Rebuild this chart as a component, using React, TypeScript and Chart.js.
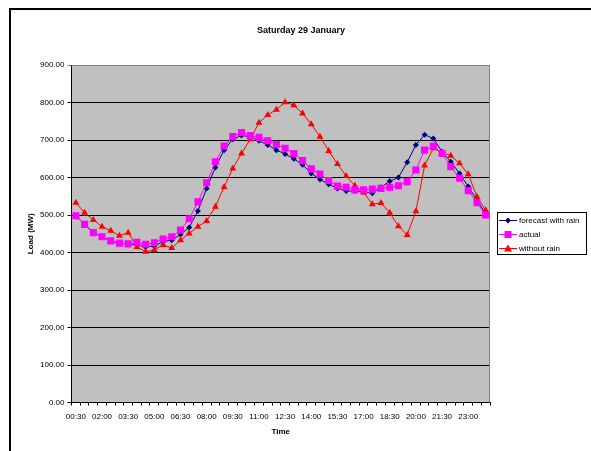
import React, { useEffect, useRef } from "react";
import { Chart, registerables } from "chart.js";

Chart.register(...registerables);

const TITLE = "Saturday 29 January";
const X_TITLE = "Time";
const Y_TITLE = "Load (MW)";

const TIME_LABELS = [
  "00:30", "01:00", "01:30", "02:00", "02:30", "03:00", "03:30", "04:00",
  "04:30", "05:00", "05:30", "06:00", "06:30", "07:00", "07:30", "08:00",
  "08:30", "09:00", "09:30", "10:00", "10:30", "11:00", "11:30", "12:00",
  "12:30", "13:00", "13:30", "14:00", "14:30", "15:00", "15:30", "16:00",
  "16:30", "17:00", "17:30", "18:00", "18:30", "19:00", "19:30", "20:00",
  "20:30", "21:00", "21:30", "22:00", "22:30", "23:00", "23:30", "24:00",
];

const FORECAST_WITH_RAIN = [
  498, 475, 453, 442, 430, 425, 423, 420, 415, 417, 429, 433,
  448, 467, 511, 571, 627, 673, 702, 712, 709, 698, 687, 673,
  663, 650, 634, 611, 595, 582, 571, 564, 564, 562, 558, 574,
  590, 600, 641, 687, 714, 704, 669, 642, 611, 576, 540, 504,
];

const ACTUAL = [
  498, 475, 453, 442, 431, 425, 423, 427, 422, 426, 436, 442,
  460, 490, 535, 586, 642, 684, 709, 720, 712, 707, 698, 688,
  678, 664, 645, 623, 609, 592, 577, 574, 567, 567, 569, 571,
  574, 578, 589, 620, 673, 684, 664, 629, 598, 565, 533, 500,
];

const WITHOUT_RAIN = [
  533, 506, 487, 469, 458, 445, 453, 415, 402, 407, 420, 412,
  433, 451, 469, 484, 522, 575, 624, 664, 702, 746, 767, 781,
  801, 793, 771, 742, 709, 671, 636, 604, 578, 560, 529, 532,
  506, 470, 447, 510, 632, 678, 667, 658, 638, 609, 549, 513,
];

const SERIES_NAMES = ["forecast with rain", "actual", "without rain"];
const SERIES_COLORS = ["#000080", "#FF00FF", "#FF0000"];
const SERIES_MARKERS = ["rectRot", "rect", "triangle"];

const FONT = "'Liberation Sans', Arial, sans-serif";

function drawMarker(ctx: CanvasRenderingContext2D, kind: string, x: number, y: number, color: string) {
  ctx.save();
  ctx.fillStyle = color;
  ctx.strokeStyle = color;
  ctx.beginPath();
  if (kind === "rectRot") {
    const r = 3;
    ctx.moveTo(x, y - r);
    ctx.lineTo(x + r, y);
    ctx.lineTo(x, y + r);
    ctx.lineTo(x - r, y);
    ctx.closePath();
  } else if (kind === "rect") {
    const s = 3.5;
    ctx.rect(x - s, y - s, 2 * s, 2 * s);
  } else {
    const r = 4;
    ctx.moveTo(x, y - r);
    ctx.lineTo(x + r, y + r * 0.75);
    ctx.lineTo(x - r, y + r * 0.75);
    ctx.closePath();
  }
  ctx.fill();
  ctx.restore();
}

const decorPlugin = {
  id: "decor",
  beforeDraw(chart: any) {
    const { ctx, chartArea } = chart;
    ctx.save();
    ctx.fillStyle = "#FFFFFF";
    ctx.fillRect(0, 0, chart.width, chart.height);
    // outer frame
    ctx.strokeStyle = "#000000";
    ctx.lineWidth = 2;
    ctx.strokeRect(10, 9, 700, 700);
    // plot background
    ctx.fillStyle = "#C0C0C0";
    ctx.fillRect(chartArea.left, chartArea.top, chartArea.right - chartArea.left, chartArea.bottom - chartArea.top);
    // title
    ctx.fillStyle = "#000000";
    ctx.font = "bold 9px " + FONT;
    ctx.textAlign = "center";
    ctx.textBaseline = "middle";
    ctx.fillText(TITLE, 301, 31);
    ctx.restore();
  },
  beforeDatasetsDraw(chart: any) {
    const { ctx, chartArea } = chart;
    ctx.save();
    ctx.strokeStyle = "#808080";
    ctx.lineWidth = 1;
    ctx.beginPath();
    ctx.moveTo(chartArea.left, chartArea.top + 0.5);
    ctx.lineTo(chartArea.right - 0.5, chartArea.top + 0.5);
    ctx.lineTo(chartArea.right - 0.5, chartArea.bottom);
    ctx.stroke();
    ctx.restore();
  },
  afterDraw(chart: any) {
    const { ctx } = chart;
    ctx.save();
    const bx = 497, by = 212, bw = 89, bh = 42;
    ctx.fillStyle = "#FFFFFF";
    ctx.fillRect(bx, by, bw, bh);
    ctx.strokeStyle = "#000000";
    ctx.lineWidth = 1;
    ctx.strokeRect(bx + 0.5, by + 0.5, bw, bh);
    chart.data.datasets.forEach((ds: any, i: number) => {
      const y = 220 + i * 14;
      ctx.strokeStyle = ds.borderColor;
      ctx.lineWidth = 1;
      ctx.beginPath();
      ctx.moveTo(499, y + 0.5);
      ctx.lineTo(517, y + 0.5);
      ctx.stroke();
      drawMarker(ctx, SERIES_MARKERS[i], 508, y + 0.5, ds.borderColor);
      ctx.fillStyle = "#000000";
      ctx.font = "8px " + FONT;
      ctx.textAlign = "left";
      ctx.textBaseline = "middle";
      ctx.fillText(ds.label, 519, y + 0.5);
    });
    ctx.restore();
  },
};

export default function App() {
  const ref = useRef<HTMLCanvasElement>(null);

  useEffect(() => {
    if (!ref.current) return;
    const seriesData = [FORECAST_WITH_RAIN, ACTUAL, WITHOUT_RAIN];
    const orders = [3, 1, 2];
    const radii = [3, 5, 4];
    const chart = new Chart(ref.current, {
      type: "line",
      data: {
        labels: TIME_LABELS,
        datasets: seriesData.map((d, i) => ({
          label: SERIES_NAMES[i],
          data: d,
          borderColor: SERIES_COLORS[i],
          backgroundColor: SERIES_COLORS[i],
          borderWidth: 1,
          pointStyle: SERIES_MARKERS[i] as any,
          pointRadius: radii[i],
          pointBorderWidth: 0,
          pointBackgroundColor: SERIES_COLORS[i],
          tension: 0,
          order: orders[i],
          fill: false,
        })),
      },
      options: {
        responsive: false,
        animation: false,
        devicePixelRatio: 1,
        layout: { padding: { left: 20, right: 101, top: 65, bottom: 0 } },
        plugins: {
          legend: { display: false },
          title: { display: false },
          tooltip: { enabled: false },
        },
        scales: {
          x: {
            type: "category",
            offset: true,
            grid: {
              offset: true,
              drawOnChartArea: false,
              drawTicks: true,
              tickLength: 3,
              color: "#000000",
            },
            border: { color: "#000000", width: 1 },
            ticks: {
              autoSkip: false,
              maxRotation: 0,
              minRotation: 0,
              padding: 6,
              color: "#000000",
              font: { family: FONT, size: 8 },
              callback: (_v: any, i: number) => (i % 3 === 0 ? TIME_LABELS[i] : ""),
            },
            title: {
              display: true,
              text: X_TITLE,
              color: "#000000",
              font: { family: FONT, size: 8, weight: "bold" },
              padding: { top: 0, bottom: 14 },
            },
            afterFit: (s: any) => {
              s.height = 48.5;
            },
          },
          y: {
            min: 0,
            max: 900,
            ticks: {
              stepSize: 100,
              padding: 3,
              color: "#000000",
              font: { family: FONT, size: 8 },
              callback: (v: any) => Number(v).toFixed(2),
            },
            grid: {
              color: (c: any) => (c.tick && c.tick.value === 900 ? "#808080" : "#000000"),
              tickLength: 4,
              drawTicks: true,
            },
            border: { color: "#000000", width: 1 },
            title: {
              display: true,
              text: Y_TITLE,
              color: "#000000",
              font: { family: FONT, size: 8, weight: "bold" },
              padding: { top: 6, bottom: 0 },
            },
            afterFit: (s: any) => {
              s.width = 51.5;
            },
          },
        },
      } as any,
      plugins: [decorPlugin],
    });
    return () => chart.destroy();
  }, []);

  return (
    <div style={{ position: "fixed", left: 0, top: 0, width: 591, height: 451 }}>
      <canvas ref={ref} width={591} height={451} style={{ width: 591, height: 451 }} />
    </div>
  );
}
